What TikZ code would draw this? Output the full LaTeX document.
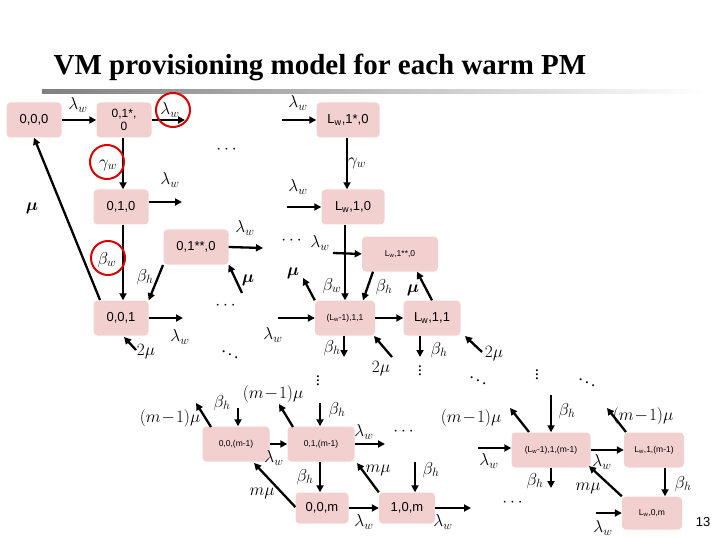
\documentclass[tikz,border=0pt]{standalone}
\usepackage{amsmath}
\usepackage{fontspec}
\setmainfont{Liberation Serif}
\newfontfamily\nodefont{Liberation Sans}
\usetikzlibrary{arrows.meta}
\definecolor{nodepink}{RGB}{242,208,208}
\tikzset{
 st/.style={fill=nodepink,rounded corners=4pt,minimum height=35pt,inner sep=1pt,font=\nodefont\fontsize{13}{14}\selectfont,align=center},
 sts/.style={st,font=\nodefont\fontsize{8.5}{9}\selectfont},
 ar/.style={line width=2.3pt,-{Triangle[length=7pt,width=7pt]}},
 lb/.style={font=\fontsize{17}{17}\selectfont,inner sep=0pt},
 rc/.style={draw=red!85!black,line width=2pt}
}
\newcommand{\lw}{$\lambda_w$}
\newcommand{\bh}{$\beta_h$}
\newcommand{\mLw}{L\textsubscript{w}}
\begin{document}
\begin{tikzpicture}[x=1pt,y=-1pt]
\useasboundingbox (0,0) rectangle (720,540);
\fill[white] (0,0) rectangle (720,540);
\node[font=\bfseries\fontsize{29}{31}\selectfont] (title) at (320,67) {VM provisioning model for each warm PM};
\shade[left color=gray,right color=white] (42,90) rectangle (705,94);
\node[font=\nodefont\fontsize{13}{14}\selectfont] (pg) at (703,522) {13};
% nodes
\node[st,minimum width=55pt] (a) at (34,120) {0,0,0};
\node[st,minimum width=55pt,font=\nodefont\fontsize{12}{13}\selectfont] (b) at (124,120) {0,1*,\\0};
\node[st,minimum width=63pt] (c) at (348,120) {\mLw,1*,0};
\node[st,minimum width=55pt] (d) at (121,207) {0,1,0};
\node[st,minimum width=63pt] (e) at (353,207) {\mLw,1,0};
\node[st,minimum width=65pt] (f) at (196,247) {0,1**,0};
\node[sts,minimum width=76pt] (g) at (400,254) {\mLw,1**,0};
\node[st,minimum width=55pt] (h) at (121,318) {0,0,1};
\node[sts,minimum width=60pt] (i) at (345,318) {(\mLw-1),1,1};
\node[st,minimum width=57pt] (j) at (432,318) {\mLw,1,1};
\node[sts,minimum width=67pt] (k) at (236,444) {0,0,(m-1)};
\node[sts,minimum width=67pt] (l) at (321,444) {0,1,(m-1)};
\node[st,minimum width=53pt,minimum height=31pt] (m) at (322,508) {0,0,m};
\node[st,minimum width=56pt,minimum height=31pt] (n) at (407,508) {1,0,m};
\node[sts,minimum width=79pt] (o) at (551,450) {(\mLw-1),1,(m-1)};
\node[sts,minimum width=60pt] (p) at (654,450) {\mLw,1,(m-1)};
\node[sts,minimum width=60pt,minimum height=33pt] (q) at (652,513) {\mLw,0,m};
% row 1
\draw[ar] (a.east) -- (b.west); \node[lb] at (78,105) {\lw};
\draw[ar] (b.east) -- (185,120); \node[lb] at (170,110) {\lw};
\draw[rc] (173,110) circle (17);
\draw[ar] (282,120) -- (c.west); \node[lb] at (298,103) {\lw};
\node[lb] (d1) at (228,150) {$\cdots$};
\draw[ar] (b.south -| 123,0) -- (d.north -| 123,0); \node[lb] at (108,165) {$\gamma_w$};
\draw[rc] (107,162) circle (17);
\draw[ar] (c.south -| 347,0) -- (e.north -| 347,0); \node[lb] at (357,163) {$\gamma_w$};
% row 2
\draw[ar] (d.east |- 0,202) -- (182,202); \node[lb] at (170,180) {\lw};
\draw[ar] (287,207) -- (e.west); \node[lb] at (298,187) {\lw};
\draw[ar] (d.south -| 123,0) -- (h.north -| 123,0); \node[lb] at (107,260) {$\beta_w$};
\draw[rc] (108,258) circle (17);
\draw[ar] (100,300) -- (a.south);
\node[lb] at (32,208) {$\boldsymbol{\mu}$};
\draw[ar] (f.east) -- (263,248); \node[lb] at (245,228) {\lw};
\node[lb] at (293,241) {$\cdots$};
\draw[ar] (333,253) -- (g.west); \node[lb] at (320,243) {\lw};
\draw[ar] (e.south -| 345,0) -- (i.north -| 345,0); \node[lb] at (332,286) {$\beta_w$};
\draw[ar] (g.south -| 373,0) -- (i.north -| 363,0); \node[lb] at (384,287) {\bh};
\draw[ar] (163,265) -- (h.north east);
\node[lb] at (145,277) {\bh};
\draw[ar] (242,293) -- (f.south east); \node[lb] at (248,280) {$\boldsymbol{\mu}$};
\draw[ar] (i.north west) -- (303,278); \node[lb] at (293,273) {$\boldsymbol{\mu}$};
\draw[ar] (j.north) -- (g.south -| 417,0); \node[lb] at (413,290) {$\boldsymbol{\mu}$};
% row 3
\draw[ar] (h.east) -- (183,318); \node[lb] at (180,337) {\lw};
\node[lb] at (227,306) {$\cdots$};
\draw[ar] (278,318) -- (i.west); \node[lb] at (273,335) {\lw};
\draw[ar] (i.east) -- (j.west);
\draw[ar] (136,350) -- (124,337); \node[lb] at (146,352) {$2\mu$};
\draw[ar] (i.south -| 344,0) -- (344,357); \node[lb] at (332,348) {\bh};
\draw[ar] (392,357) -- (374,336); \node[lb] at (381,369) {$2\mu$};
\draw[ar] (j.south -| 420,0) -- (420,357); \node[lb] at (439,350) {\bh};
\draw[ar] (482,352) -- (465,336); \node[lb] at (494,354) {$2\mu$};
\node[lb] at (230,352) {$\ddots$};
\node[lb] at (318,378) {$\vdots$};
\node[lb] at (420,368) {$\vdots$};
\node[lb] at (478,378) {$\ddots$};
\node[lb] at (537,372) {$\vdots$};
\node[lb] at (587,380) {$\ddots$};
% row m-1
\draw[ar] (238,408) -- (k.north -| 238,0); \node[lb] at (222,403) {\bh};
\draw[ar] (211,427) -- (196,403); \node[lb] at (170,418) {$(m\!-\!1)\mu$};
\draw[ar] (293,427) -- (279,404); \node[lb] at (273,394) {$(m\!-\!1)\mu$};
\draw[ar] (320,403) -- (l.north -| 320,0); \node[lb] at (337,410) {\bh};
\draw[ar] (k.east) -- (l.west); \node[lb] at (274,458) {\lw};
\draw[ar] (l.east) -- (385,444); \node[lb] at (364,432) {\lw};
\node[lb] at (405,432) {$\cdots$};
\draw[ar] (l.south -| 320,0) -- (m.north -| 320,0); \node[lb] at (305,477) {\bh};
\draw[ar] (m.west |- 0,507) -- (254,463); \node[lb] at (262,493) {$m\mu$};
\draw[ar] (n.north west) -- (357,463); \node[lb] at (378,470) {$m\mu$};
\draw[ar] (415,462) -- (n.north -| 415,0); \node[lb] at (431,470) {\bh};
\draw[ar] (m.east) -- (n.west); \node[lb] at (364,522) {\lw};
\draw[ar] (n.east) -- (471,508); \node[lb] at (443,522) {\lw};
\node[lb] at (514,503) {$\cdots$};
\draw[ar] (478,448) -- (o.west |- 0,448); \node[lb] at (489,461) {\lw};
\draw[ar] (551,395) -- (o.north); \node[lb] at (567,411) {\bh};
\draw[ar] (529,432) -- (510,408); \node[lb] at (471,418) {$(m\!-\!1)\mu$};
\draw[ar] (o.east) -- (p.west); \node[lb] at (602,462) {\lw};
\draw[ar] (626,432) -- (607,408); \node[lb] at (643,416) {$(m\!-\!1)\mu$};
\draw[ar] (o.south -| 551,0) -- (551,488); \node[lb] at (535,481) {\bh};
\draw[ar] (q.north west) -- (589,466); \node[lb] at (588,488) {$m\mu$};
\draw[ar] (p.south -| 665,0) -- (q.north -| 665,0); \node[lb] at (683,484) {\bh};
\draw[ar] (596,513) -- (q.west); \node[lb] at (603,528) {\lw};
\end{tikzpicture}
\end{document}
